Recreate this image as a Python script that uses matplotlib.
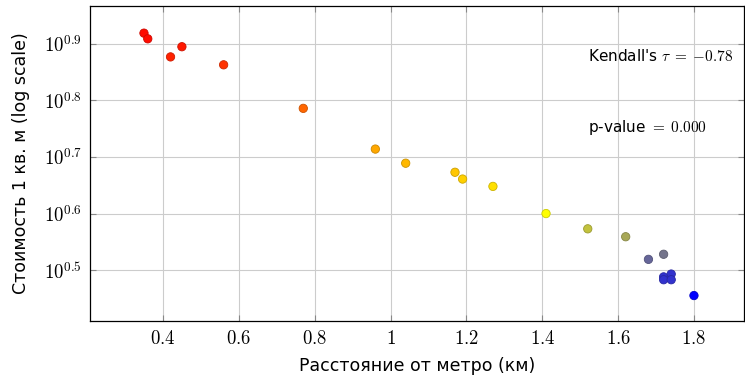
import matplotlib
matplotlib.use('Agg')
import matplotlib.pyplot as plt
from matplotlib.colors import LinearSegmentedColormap
from matplotlib.ticker import FixedLocator, FixedFormatter, NullLocator

plt.rcParams['mathtext.fontset'] = 'cm'
plt.rcParams['font.family'] = ['DejaVu Sans']

# distance to metro (km)
distance = [0.35, 0.36, 0.45, 0.42, 0.56, 0.77, 0.96, 1.04, 1.17, 1.19, 1.27,
            1.41, 1.52, 1.62, 1.68, 1.72, 1.72, 1.74, 1.72, 1.74, 1.80]
# log10 of price per sq. m
log_price = [0.919, 0.909, 0.895, 0.877, 0.863, 0.786, 0.714, 0.689, 0.673, 0.661, 0.648,
             0.600, 0.573, 0.559, 0.519, 0.528, 0.488, 0.493, 0.483, 0.483, 0.455]
# colour meta value (0 = red, 0.5 = yellow, 1 = blue)
meta = [0.02, 0.02, 0.05, 0.07, 0.10, 0.20, 0.33, 0.36, 0.39, 0.41, 0.44,
        0.50, 0.62, 0.67, 0.80, 0.77, 0.90, 0.90, 0.90, 0.90, 1.00]

ytick_exp = [0.5, 0.6, 0.7, 0.8, 0.9]
xticks = [0.4, 0.6, 0.8, 1.0, 1.2, 1.4, 1.6, 1.8]
xtick_labels = ['0.4', '0.6', '0.8', '1', '1.2', '1.4', '1.6', '1.8']

price = [10 ** v for v in log_price]

cmap = LinearSegmentedColormap.from_list('ryb', ['#ff0000', '#ffff00', '#0000ff'])

fig = plt.figure(figsize=(7.45, 3.75), dpi=100)
ax = fig.add_axes([0.1208, 0.144, 0.8779, 0.840])

cols = cmap(meta)
edge = [(r * 0.8, g * 0.8, b * 0.8, 1) for r, g, b, a in cols]
ax.scatter(distance, price, c=cols, s=36, edgecolors=edge, linewidths=0.6, zorder=3)

ax.set_yscale('log')
ax.set_xlim(0.2077, 1.932)
ax.set_ylim(10 ** 0.41, 10 ** 0.967)

ax.xaxis.set_major_locator(FixedLocator(xticks))
ax.xaxis.set_major_formatter(FixedFormatter(['$%s$' % t for t in xtick_labels]))
ax.yaxis.set_major_locator(FixedLocator([10 ** e for e in ytick_exp]))
ax.yaxis.set_major_formatter(FixedFormatter(['$10^{%.1f}$' % e for e in ytick_exp]))
ax.yaxis.set_minor_locator(NullLocator())
ax.xaxis.set_minor_locator(NullLocator())

ax.tick_params(direction='in', length=4, color='#888888', labelsize=13.5,
               top=True, right=True, width=0.8, pad=6)
ax.grid(True, color='#cccccc', linewidth=0.8)
ax.set_axisbelow(True)
for sp in ax.spines.values():
    sp.set_linewidth(0.9)

ax.set_xlabel('Расстояние от метро (км)', fontsize=12.5, labelpad=6)
ax.set_ylabel('Стоимость 1 кв. м (log scale)', fontsize=12.5, labelpad=10)

ax.text(0.761, 0.841, "Kendall's $\\tau\\;=\\;{-0.78}$", transform=ax.transAxes,
        fontsize=11, va='center', ha='left')
ax.text(0.761, 0.613, "p-value $=\\;0.000$", transform=ax.transAxes,
        fontsize=11, va='center', ha='left')

fig.savefig('out.png', dpi=100)
